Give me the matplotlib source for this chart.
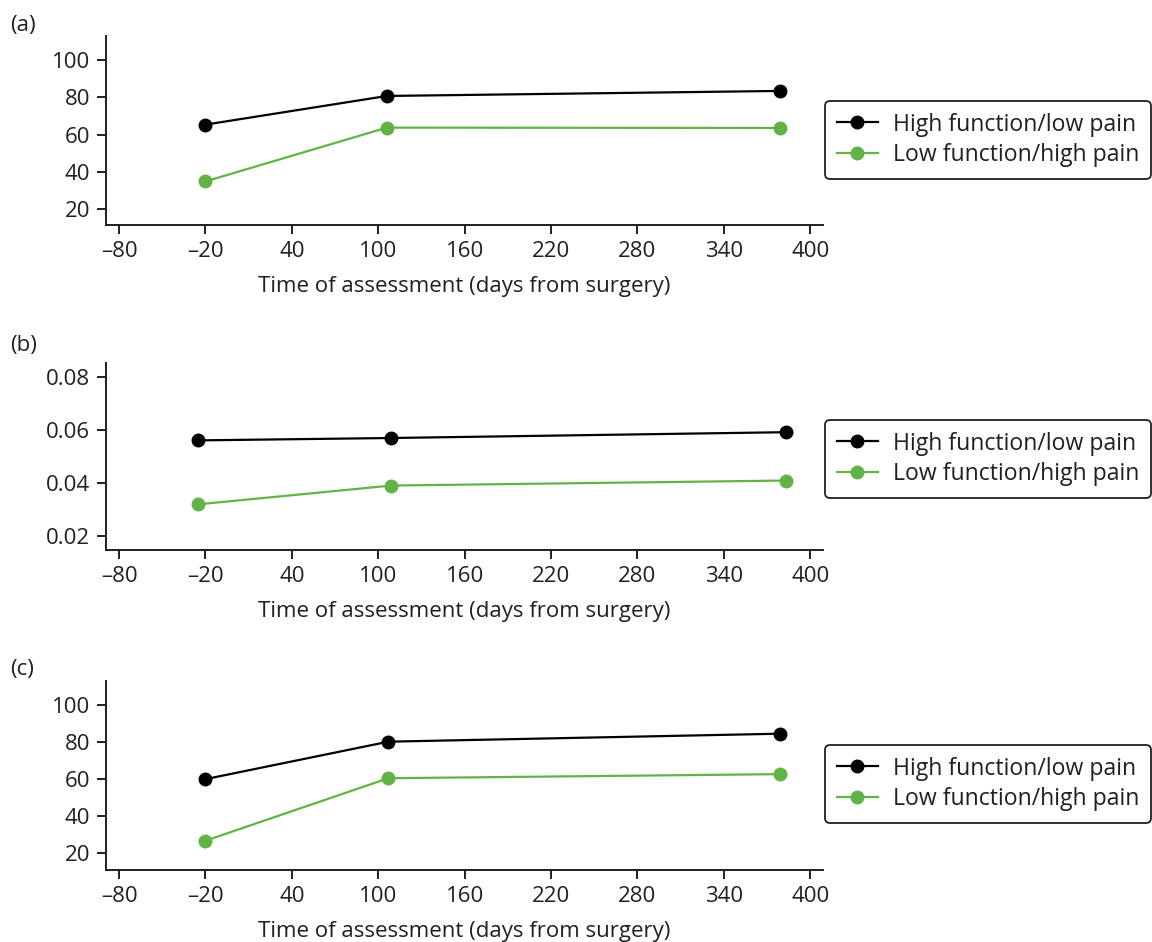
import matplotlib
matplotlib.use("Agg")
import matplotlib.pyplot as plt

plt.rcParams['font.family'] = ['Open Sans', 'DejaVu Sans']

# Data
series_names = ["High function/low pain", "Low function/high pain"]
colors = ["#000000", "#62b246"]

a_x = [-20, 106, 379]
a_high = [65.3, 80.7, 83.4]
a_low = [34.8, 63.7, 63.5]

b_x_high = [-25, 109, 383]
b_x_low = [-25, 109, 383]
b_high = [0.0561, 0.0570, 0.0592]
b_low = [0.0319, 0.0390, 0.0409]

c_x = [-20, 107, 379]
c_high = [60.0, 80.2, 84.5]
c_low = [26.8, 60.5, 62.7]

xticks = [-80, -20, 40, 100, 160, 220, 280, 340, 400]
xticklabels = ["\u201380", "\u201320", "40", "100", "160", "220", "280", "340", "400"]
yticks_ac = [20, 40, 60, 80, 100]
yticks_b = [0.02, 0.04, 0.06, 0.08]
yticklabels_b = ["0.02", "0.04", "0.06", "0.08"]

W, H = 1152, 942
fig = plt.figure(figsize=(W / 100, H / 100), dpi=100)

text_color = "#231f20"
fs = 16.0
leg_fs = 16.6

def make_ax(top_px, bottom_px):
    left, right = 106, 823
    return fig.add_axes([left / W, 1 - bottom_px / H, (right - left) / W, (bottom_px - top_px) / H])

panels = [
    ("(a)", make_ax(36, 225), [a_x, a_x], [a_high, a_low], (11.4, 112.9), yticks_ac, [str(v) for v in yticks_ac], 101, 25),
    ("(b)", make_ax(362.7, 550.3), [b_x_high, b_x_low], [b_high, b_low], (0.0145, 0.0855), yticks_b, yticklabels_b, 420, 345),
    ("(c)", make_ax(681, 869.7), [c_x, c_x], [c_high, c_low], (11.2, 112.9), yticks_ac, [str(v) for v in yticks_ac], 745, 669),
]

for label, ax, xs, ys, ylim, yt, ytl, leg_top, lab_y in panels:
    for x, y, col, name in zip(xs, ys, colors, series_names):
        ax.plot(x, y, color=col, lw=1.6, marker='o', ms=9, label=name)
    ax.set_xlim(-89, 408.8)
    ax.set_ylim(*ylim)
    ax.set_xticks(xticks)
    ax.set_xticklabels(xticklabels)
    ax.set_yticks(yt)
    ax.set_yticklabels(ytl)
    for s in ["top", "right"]:
        ax.spines[s].set_visible(False)
    for s in ["left", "bottom"]:
        ax.spines[s].set_linewidth(1.4)
        ax.spines[s].set_color(text_color)
    ax.tick_params(direction='out', length=6.5, width=1.4, colors=text_color,
                   labelsize=fs, labelcolor=text_color, pad=5)
    ax.set_xlabel("Time of assessment (days from surgery)", fontsize=fs,
                  color=text_color, labelpad=10)
    fig.text(10 / W, 1 - lab_y / H, label, fontsize=fs, color=text_color,
             ha='left', va='center')
    leg = ax.legend(loc='upper left', bbox_to_anchor=(825 / W, 1 - leg_top / H),
                    bbox_transform=fig.transFigure, borderaxespad=0,
                    fontsize=leg_fs, frameon=True, fancybox=True, handlelength=1.8,
                    handletextpad=0.65, borderpad=0.5, labelspacing=0.3)
    fr = leg.get_frame()
    fr.set_edgecolor(text_color)
    fr.set_linewidth(1.3)
    fr.set_alpha(1)
    for t in leg.get_texts():
        t.set_color(text_color)

fig.savefig("out.png", dpi=100)
